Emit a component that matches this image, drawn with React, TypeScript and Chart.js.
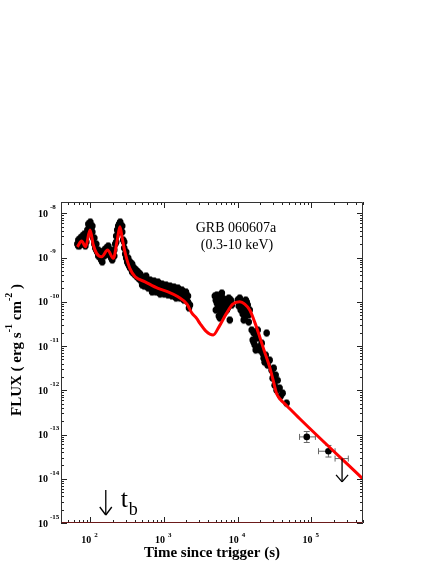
import React, { useEffect, useRef } from "react";
import { Chart, registerables } from "chart.js";
Chart.register(...registerables);

// ---- data (time in s, flux in erg s^-1 cm^-2) ----
const obsTime = [
  66.7, 68.8, 71.0, 73.2, 75.6, 78.0, 80.4, 83.0, 85.6, 88.3, 91.1, 94.0, 96.9, 100, 103.2, 106.4, 109.8, 113.3, 116.8, 120.5,
  124.3, 128.3, 132.3, 136.5, 140.8, 145.3, 149.9, 154.6, 159.5, 164.6, 169.8, 175.1, 180.7, 186.4, 192.3, 198.4, 204.6, 211.1,
  217.8, 224.7, 231.8, 239.1, 246.6, 254.4, 262.5, 270.8, 279.3, 288.2, 297.3, 306.7, 316.4, 326.4, 336.7, 347.3,
  68.8, 73.2, 78.0, 83.0, 88.3, 94.0, 100, 106.4, 113.3, 120.5, 128.3, 136.5, 145.3, 154.6, 164.6, 175.1, 186.4, 198.4, 211.1,
  224.7, 239.1, 254.4, 270.8, 288.2, 306.7, 326.4, 347.3,
  358.3, 369.6, 381.3, 393.4, 405.8, 418.6, 431.9, 445.5, 459.6, 474.2, 489.1, 504.6, 520.6, 537.0, 554.0, 571.5, 589.6, 608.2,
  627.4, 647.3, 667.7, 688.8, 710.6, 733.1, 756.3, 780.2, 804.9, 830.3, 856.6, 883.6, 940.4, 1001, 1065, 1133, 1206, 1283, 1366,
  1453, 1547, 1646, 1752, 1864, 1984, 2111, 2247,
  369.6, 393.4, 418.6, 445.5, 474.2, 504.6, 537.0, 571.5, 608.2, 647.3, 688.8, 733.1, 780.2, 830.3, 883.6, 940.4, 1001, 1065, 1133,
  1206, 1283, 1366, 1453, 1547, 1646, 1752, 1864, 1984, 2111, 2178,
  5043, 5043, 5202, 5367, 5537, 5537, 5713, 5893, 6080, 6272, 6471, 6675, 6887, 7104, 7329, 7561, 7800, 8047, 8302,
  4888, 5202, 5713, 6272, 6675, 7104, 7561, 5713, 6080,
  10000, 10316, 10643, 10980, 11327, 11685, 12055, 12436, 12830, 13236, 13655, 14087, 14532,
  10316, 10980, 11685, 12436, 13236, 14087, 12055,
  15466, 15956, 16461, 16982, 17519, 18073, 18645, 19843, 21112, 21779, 22466, 24666, 23177,
  16461, 17519, 18645, 20470,
  23910, 25447, 27064, 28818, 29730, 30670, 31641, 32642, 33674, 34740, 36950, 38121, 40564, 45950,
];
const obsFlux = [
  2.02e-9, 2.49e-9, 1.82e-9, 2.76e-9, 2.24e-9, 3.06e-9, 2.02e-9, 2.49e-9, 1.82e-9, 3.06e-9, 4.19e-9, 5.73e-9, 5.16e-9, 6.36e-9,
  4.65e-9, 3.77e-9, 2.76e-9, 2.02e-9, 1.64e-9, 1.48e-9, 1.33e-9, 1.08e-9, 1.2e-9, 9.75e-10, 8.78e-10, 1.08e-9, 1.2e-9, 1.48e-9,
  1.33e-9, 1.64e-9, 1.48e-9, 1.82e-9, 1.33e-9, 1.08e-9, 9.75e-10, 1.2e-9, 1.08e-9, 1.48e-9, 2.02e-9, 3.06e-9, 4.19e-9, 5.16e-9,
  5.73e-9, 6.36e-9, 5.16e-9, 3.77e-9, 2.49e-9, 1.64e-9, 1.2e-9, 9.75e-10, 7.91e-10, 7.13e-10, 6.42e-10, 5.78e-10,
  1.82e-9, 2.02e-9, 2.24e-9, 3.4e-9, 2.24e-9, 4.19e-9, 4.65e-9, 5.16e-9, 2.76e-9, 2.02e-9, 1.48e-9, 1.33e-9, 7.91e-10, 1.08e-9,
  1.2e-9, 1.33e-9, 1.48e-9, 8.78e-10, 1.08e-9, 2.24e-9, 3.77e-9, 4.65e-9, 5.16e-9, 2.24e-9, 1.33e-9, 9.75e-10, 7.91e-10,
  6.42e-10, 4.7e-10, 5.78e-10, 4.23e-10, 5.21e-10, 3.81e-10, 4.7e-10, 3.44e-10, 4.23e-10, 3.1e-10, 3.81e-10, 3.26e-10, 2.79e-10,
  3.44e-10, 2.65e-10, 3.1e-10, 2.39e-10, 2.94e-10, 2.51e-10, 2.15e-10, 2.65e-10, 2.26e-10, 1.84e-10, 2.39e-10, 2.04e-10, 2.51e-10,
  1.94e-10, 2.26e-10, 1.75e-10, 2.15e-10, 1.84e-10, 2.26e-10, 1.75e-10, 2.04e-10, 1.66e-10, 1.94e-10, 1.57e-10, 1.84e-10, 1.42e-10,
  1.75e-10, 1.35e-10, 1.57e-10, 1.21e-10, 9.84e-11, 8.42e-11,
  7.13e-10, 5.78e-10, 5.21e-10, 4.7e-10, 4.23e-10, 2.39e-10, 2.26e-10, 3.81e-10, 2.04e-10, 3.1e-10, 1.66e-10, 2.94e-10, 1.66e-10,
  2.79e-10, 1.49e-10, 2.51e-10, 1.49e-10, 2.39e-10, 1.42e-10, 2.26e-10, 1.35e-10, 2.15e-10, 1.21e-10, 2.04e-10, 1.21e-10, 1.84e-10,
  1.09e-10, 1.66e-10, 1.35e-10, 7.21e-11,
  1.09e-10, 6.49e-11, 1.42e-10, 8.42e-11, 1.21e-10, 4.75e-11, 6.49e-11, 9.84e-11, 1.57e-10, 8.0e-11, 1.09e-10, 5.85e-11, 8.87e-11,
  1.09e-10, 7.21e-11, 9.84e-11, 3.85e-11, 1.09e-10, 8.42e-11,
  1.35e-10, 9.35e-11, 1.35e-10, 1.21e-10, 8.87e-11, 6.49e-11, 1.21e-10, 4.28e-11, 5.27e-11,
  1.09e-10, 8.0e-11, 1.21e-10, 6.49e-11, 9.84e-11, 5.27e-11, 8.42e-11, 4.28e-11, 1.09e-10, 5.85e-11, 8.42e-11, 3.47e-11, 6.49e-11,
  1.09e-10, 9.35e-11, 8.0e-11, 7.21e-11, 9.84e-11, 5.0e-11, 3.85e-11,
  2.29e-11, 1.36e-11, 1.96e-11, 1.05e-11, 1.77e-11, 8.97e-12, 1.51e-11, 8.08e-12, 1.16e-11, 6.91e-12, 5.32e-12, 1.96e-11, 4.32e-12,
  1.22e-11, 8.08e-12, 2.29e-11, 9.95e-12,
  6.22e-12, 3.7e-12, 4.8e-12, 2.85e-12, 1.88e-12, 3.16e-12, 1.3e-12, 2.2e-12, 1.0e-12, 1.69e-12, 1.12e-12, 7.36e-13, 8.6e-13, 5.11e-13,
];
const obsRelErrFlux = 0.2;
const obsRelErrTime = 0.03;

const lateTime = [86300, 169800];
const lateFlux = [8.83e-14, 4.19e-14];
const lateTimeLo = [68900, 124500];
const lateTimeHi = [113000, 209000];
const lateFluxLo = [6.6e-14, 3.1e-14];
const lateFluxHi = [1.17e-13, 5.66e-14];

const ulTime = [260000];
const ulFlux = [2.86e-14];
const ulTimeLo = [209000];
const ulTimeHi = [316000];
const ulArrowEnd = [8.5e-15];

const modelTime = [
  66.7, 76.2, 86.3, 99, 109.8, 121.7, 142.3, 171.5, 204.9, 231.9, 251.9, 270.4, 294.4, 343.7, 405.8, 554, 830, 1133, 1547, 2047,
  2388, 2768, 3065, 3697, 4638, 5537, 7027, 8551, 10640, 12440, 14530, 16980, 19830, 23170, 27060, 30630, 33620, 36950, 45520,
  68860, 493000,
];
const modelFlux = [
  1.75e-9, 2.36e-9, 1.75e-9, 4.19e-9, 1.92e-9, 1.24e-9, 1.04e-9, 1.48e-9, 9.6e-10, 2.49e-9, 4.98e-9, 2.76e-9, 1.35e-9, 5.7e-10,
  3.68e-10, 2.83e-10, 2.01e-10, 1.68e-10, 1.3e-10, 8.87e-11, 5.55e-11, 4.21e-11, 3.25e-11, 2.17e-11, 1.77e-11, 2.68e-11, 5.47e-11,
  8.87e-11, 1.0e-10, 8.87e-11, 6.49e-11, 3.47e-11, 1.62e-11, 7.27e-12, 3.38e-12, 1.52e-12, 8.47e-13, 6.52e-13, 4.6e-13, 2.3e-13,
  1.01e-14,
];

const xTickExponents = [2, 3, 4, 5];
const yTickExponents = [-15, -14, -13, -12, -11, -10, -9, -8];
const xMin = 40, xMax = 5e5, yMin = 1e-15, yMax = 1.8e-8;
const titleText = "GRB 060607a";
const bandText = "(0.3-10 keV)";
const xTitle = "Time since trigger (s)";
const tbTime = 162;

const SERIF = '"Liberation Serif", "Times New Roman", serif';

const decorPlugin = {
  id: "decor",
  beforeDatasetsDraw(chart: any) {
    const { ctx, chartArea: a, scales } = chart;
    const x = scales.x, y = scales.y;
    ctx.save();
    ctx.beginPath();
    ctx.rect(a.left, a.top, a.right - a.left, a.bottom - a.top);
    ctx.clip();
    ctx.strokeStyle = "#8a8a8a";
    ctx.lineWidth = 1;
    const bar = (t0: number, f0: number, t1: number, f1: number) => {
      ctx.beginPath();
      ctx.moveTo(x.getPixelForValue(t0), y.getPixelForValue(f0));
      ctx.lineTo(x.getPixelForValue(t1), y.getPixelForValue(f1));
      ctx.stroke();
    };
    for (let i = 0; i < obsTime.length; i++) {
      const t = obsTime[i], f = obsFlux[i];
      bar(t, f / (1 + obsRelErrFlux), t, f * (1 + obsRelErrFlux));
      bar(t * (1 - obsRelErrTime), f, t * (1 + obsRelErrTime), f);
      for (const ff of [f / (1 + obsRelErrFlux), f * (1 + obsRelErrFlux)]) {
        const px = x.getPixelForValue(t), py = y.getPixelForValue(ff);
        ctx.beginPath(); ctx.moveTo(px - 2, py); ctx.lineTo(px + 2, py); ctx.stroke();
      }
    }
    ctx.strokeStyle = "#666";
    const capH = (t: number, f: number) => {
      const px = x.getPixelForValue(t), py = y.getPixelForValue(f);
      ctx.beginPath(); ctx.moveTo(px, py - 3); ctx.lineTo(px, py + 3); ctx.stroke();
    };
    const capV = (t: number, f: number) => {
      const px = x.getPixelForValue(t), py = y.getPixelForValue(f);
      ctx.beginPath(); ctx.moveTo(px - 3, py); ctx.lineTo(px + 3, py); ctx.stroke();
    };
    for (let i = 0; i < lateTime.length; i++) {
      bar(lateTimeLo[i], lateFlux[i], lateTimeHi[i], lateFlux[i]);
      bar(lateTime[i], lateFluxLo[i], lateTime[i], lateFluxHi[i]);
      capH(lateTimeLo[i], lateFlux[i]); capH(lateTimeHi[i], lateFlux[i]);
      capV(lateTime[i], lateFluxLo[i]); capV(lateTime[i], lateFluxHi[i]);
    }
    for (let i = 0; i < ulTime.length; i++) {
      bar(ulTimeLo[i], ulFlux[i], ulTimeHi[i], ulFlux[i]);
      capH(ulTimeLo[i], ulFlux[i]); capH(ulTimeHi[i], ulFlux[i]);
    }
    ctx.restore();
  },
  afterDraw(chart: any) {
    const { ctx, chartArea: a, scales } = chart;
    const x = scales.x, y = scales.y;
    ctx.save();
    const ln = (x0: number, y0: number, x1: number, y1: number) => {
      ctx.beginPath(); ctx.moveTo(x0, y0); ctx.lineTo(x1, y1); ctx.stroke();
    };
    // upper limit arrow
    ctx.strokeStyle = "#000";
    ctx.lineWidth = 1.3;
    for (let i = 0; i < ulTime.length; i++) {
      const px = x.getPixelForValue(ulTime[i]);
      const p0 = y.getPixelForValue(ulFlux[i]);
      const p1 = y.getPixelForValue(ulArrowEnd[i]);
      ln(px, p0, px, p1);
      ln(px - 6, p1 - 7, px, p1);
      ln(px + 6, p1 - 7, px, p1);
    }
    // ticks
    ctx.lineWidth = 1;
    ctx.strokeStyle = "#222";
    for (let e = 1; e <= 5; e++) {
      for (let k = 1; k <= 9; k++) {
        const v = k * Math.pow(10, e);
        if (v < xMin || v > xMax) continue;
        const px = Math.round(x.getPixelForValue(v)) + 0.5;
        const len = k === 1 ? 6 : 3;
        ln(px, a.bottom, px, a.bottom - len);
        ln(px, a.top, px, a.top + len);
      }
    }
    for (let e = -15; e <= -8; e++) {
      for (let k = 1; k <= 9; k++) {
        const v = k * Math.pow(10, e);
        if (v < yMin || v > yMax) continue;
        const py = Math.round(y.getPixelForValue(v)) + 0.5;
        const len = k === 1 ? 6 : 3;
        ln(a.left, py, a.left + len, py);
        ln(a.right, py, a.right - len, py);
      }
    }
    // frame
    ctx.strokeStyle = "#333";
    const L = Math.round(a.left) + 0.5, R = Math.round(a.right) - 0.5;
    const T = Math.round(a.top) + 0.5, B = Math.round(a.bottom) - 0.5;
    ln(L, T, L, B); ln(R, T, R, B); ln(L, T, R, T);
    ctx.strokeStyle = "#6b1a1a";
    ln(L, B, R, B);

    // tick labels
    ctx.fillStyle = "#000";
    for (const e of yTickExponents) {
      const py = y.getPixelForValue(Math.pow(10, e));
      ctx.font = `bold 10px ${SERIF}`;
      ctx.textAlign = "right";
      ctx.textBaseline = "middle";
      ctx.fillText("10", 48, py + 1);
      ctx.font = `bold 7px ${SERIF}`;
      ctx.textAlign = "left";
      ctx.fillText(String(e), 50, py - 6);
    }
    for (const e of xTickExponents) {
      const px = x.getPixelForValue(Math.pow(10, e));
      ctx.font = `bold 10px ${SERIF}`;
      ctx.textAlign = "right";
      ctx.textBaseline = "middle";
      ctx.fillText("10", px + 1, 540);
      ctx.font = `bold 7px ${SERIF}`;
      ctx.textAlign = "left";
      ctx.fillText(String(e), px + 4, 535);
    }
    // axis titles
    ctx.font = `bold 15px ${SERIF}`;
    ctx.textAlign = "center";
    ctx.textBaseline = "middle";
    ctx.fillText(xTitle, (a.left + a.right) / 2, 553);

    ctx.save();
    ctx.translate(17, 350);
    ctx.rotate(-Math.PI / 2);
    const parts: [string, boolean][] = [["FLUX ( erg s", false], ["-1", true], [" cm", false], ["-2", true], [" )", false]];
    const mainF = `bold 15px ${SERIF}`, supF = `bold 10px ${SERIF}`;
    let total = 0;
    for (const [s, sup] of parts) { ctx.font = sup ? supF : mainF; total += ctx.measureText(s).width; }
    let cx = -total / 2;
    ctx.textAlign = "left";
    for (const [s, sup] of parts) {
      ctx.font = sup ? supF : mainF;
      ctx.fillText(s, cx, sup ? -8 : 0);
      cx += ctx.measureText(s).width;
    }
    ctx.restore();

    // annotations
    ctx.font = `14px ${SERIF}`;
    ctx.textAlign = "center";
    ctx.fillText(titleText, 236, 228);
    ctx.fillText(bandText, 237, 245);

    // t_b marker
    const tx = x.getPixelForValue(tbTime);
    ctx.strokeStyle = "#000";
    ctx.lineWidth = 1.3;
    ln(tx, 490, tx, 515);
    ln(tx - 6, 507, tx, 515);
    ln(tx + 6, 507, tx, 515);
    ctx.textAlign = "left";
    ctx.textBaseline = "alphabetic";
    ctx.font = `26px ${SERIF}`;
    ctx.fillText("t", tx + 15, 507);
    ctx.font = `18px ${SERIF}`;
    ctx.fillText("b", tx + 23, 515);
    ctx.restore();
  },
};

export default function App() {
  const ref = useRef<HTMLCanvasElement | null>(null);
  useEffect(() => {
    if (!ref.current) return;
    const chart = new Chart(ref.current, {
      type: "scatter",
      data: {
        datasets: [
          {
            type: "line",
            data: modelTime.map((t, i) => ({ x: t, y: modelFlux[i] })),
            borderColor: "#ff0000",
            borderWidth: 3,
            pointRadius: 0,
            showLine: true,
            cubicInterpolationMode: "monotone",
            fill: false,
            order: 0,
          } as any,
          {
            data: obsTime.map((t, i) => ({ x: t, y: obsFlux[i] })).concat(lateTime.map((t, i) => ({ x: t, y: lateFlux[i] }))),
            backgroundColor: "#000",
            borderColor: "#000",
            pointRadius: 3.3,
            borderWidth: 0,
            order: 1,
          },
        ],
      },
      options: {
        responsive: false,
        animation: false,
        layout: { padding: { left: 0, top: 202, right: 73, bottom: 0 } },
        plugins: { legend: { display: false }, tooltip: { enabled: false } },
        scales: {
          x: {
            type: "logarithmic",
            min: xMin,
            max: xMax,
            grid: { display: false },
            border: { display: false },
            ticks: { display: false },
            afterFit: (s: any) => { s.height = 41; },
          },
          y: {
            type: "logarithmic",
            min: yMin,
            max: yMax,
            grid: { display: false },
            border: { display: false },
            ticks: { display: false },
            afterFit: (s: any) => { s.width = 61; },
          },
        },
      },
      plugins: [decorPlugin],
    });
    return () => chart.destroy();
  }, []);
  return (
    <div style={{ position: "fixed", left: 0, top: 0, width: 436, height: 564, background: "#fff" }}>
      <canvas ref={ref} width={436} height={564} style={{ width: 436, height: 564, display: "block" }} />
    </div>
  );
}
